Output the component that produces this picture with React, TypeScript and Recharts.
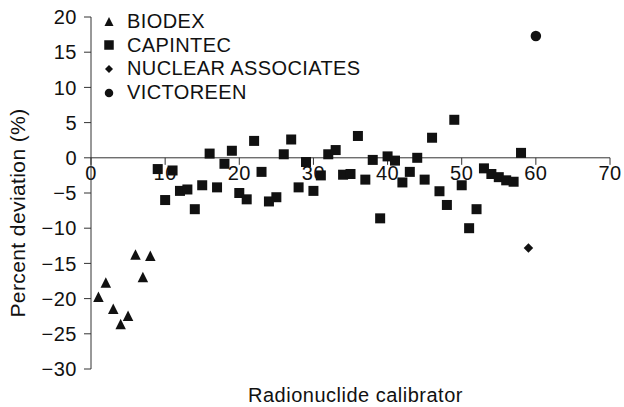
import { Legend, ReferenceLine, Scatter, ScatterChart, XAxis, YAxis } from "recharts";

document.body.style.margin = "0";

const FONT = '"Liberation Sans", Arial, Helvetica, sans-serif';
const INK = "#111";
const AXIS = "#333";

const X_TICKS = [0, 10, 20, 30, 40, 50, 60, 70];
const Y_TICKS = [-30, -25, -20, -15, -10, -5, 0, 5, 10, 15, 20];

// calibrators are numbered along x; each series starts at its first number
const BIODEX_FIRST = 1;
const BIODEX = [-19.8, -17.8, -21.5, -23.7, -22.5, -13.8, -17.0, -14.0];

const CAPINTEC_FIRST = 9;
const CAPINTEC = [
  -1.6, -6.0, -1.8, -4.7, -4.5, -7.3, -3.9, 0.6, -4.2, -0.85,
  1.0, -5.0, -5.9, 2.4, -2.0, -6.2, -5.6, 0.5, 2.6, -4.2,
  -0.6, -4.7, -2.5, 0.5, 1.1, -2.4, -2.3, 3.1, -3.1, -0.3,
  -8.6, 0.2, -0.4, -3.5, -2.0, 0.0, -3.1, 2.85, -4.75, -6.7,
  5.4, -3.9, -10.0, -7.3, -1.5, -2.3, -2.75, -3.2, -3.4, 0.7,
];

const NUCLEAR_FIRST = 59;
const NUCLEAR = [-12.8];

const VICTOREEN_FIRST = 60;
const VICTOREEN = [17.3];

const toPoints = (first: number, values: number[]) => values.map((y, i) => ({ x: first + i, y }));

const triangle = (s: number) => (p: any) => (
  <path d={`M${p.cx},${p.cy - s * 0.55}L${p.cx + s / 2},${p.cy + s * 0.45}L${p.cx - s / 2},${p.cy + s * 0.45}Z`} fill={INK} />
);
const square = (s: number) => (p: any) => <rect x={p.cx - s / 2} y={p.cy - s / 2} width={s} height={s} fill={INK} />;
const diamond = (s: number) => (p: any) => (
  <path d={`M${p.cx},${p.cy - s / 2}L${p.cx + s / 2},${p.cy}L${p.cx},${p.cy + s / 2}L${p.cx - s / 2},${p.cy}Z`} fill={INK} />
);
const circle = (s: number) => (p: any) => <circle cx={p.cx} cy={p.cy} r={s / 2} fill={INK} />;

const SERIES = [
  { name: "BIODEX", data: toPoints(BIODEX_FIRST, BIODEX), mark: triangle(10.5), icon: triangle(9) },
  { name: "CAPINTEC", data: toPoints(CAPINTEC_FIRST, CAPINTEC), mark: square(10), icon: square(9.5) },
  { name: "NUCLEAR ASSOCIATES", data: toPoints(NUCLEAR_FIRST, NUCLEAR), mark: diamond(9.5), icon: diamond(8) },
  { name: "VICTOREEN", data: toPoints(VICTOREEN_FIRST, VICTOREEN), mark: circle(10.5), icon: circle(8.5) },
];

const textStyle = { fontFamily: FONT, fontSize: 20, letterSpacing: 0.5, fill: INK };

function LegendBox({ payload }: any) {
  return (
    <div style={{ fontFamily: FONT, fontSize: 20, letterSpacing: 0.4, color: INK }}>
      {(payload ?? []).map((entry: any) => {
        const s = SERIES.find((d) => d.name === entry.value);
        return (
          <div key={entry.value} style={{ display: "flex", alignItems: "center", height: 23.6, lineHeight: "23.6px", whiteSpace: "nowrap" }}>
            <svg width={14} height={14} style={{ marginRight: 11 }}>
              {s?.icon({ cx: 7, cy: 7 })}
            </svg>
            <span>{entry.value}</span>
          </div>
        );
      })}
    </div>
  );
}

export default function App() {
  return (
    <ScatterChart width={624} height={407} margin={{ top: 17, right: 14, bottom: 0, left: 0 }}>
      <XAxis
        type="number"
        dataKey="x"
        domain={[0, 70]}
        ticks={X_TICKS}
        axisLine={false}
        tickLine={false}
        tick={false}
        height={38}
        label={(props: any) => {
          const vb = props.viewBox;
          return (
            <text x={vb.x + vb.width / 2 + 5} y={vb.y + 33} textAnchor="middle" style={textStyle}>
              Radionuclide calibrator
            </text>
          );
        }}
      />
      <YAxis
        type="number"
        dataKey="y"
        domain={[-30, 20]}
        ticks={Y_TICKS}
        interval={0}
        width={91}
        tickSize={7}
        tickMargin={7}
        axisLine={{ stroke: AXIS }}
        tickLine={{ stroke: AXIS }}
        tick={{ ...textStyle }}
        tickFormatter={(v: number) => String(v).replace("-", "\u2212")}
        label={(props: any) => {
          const vb = props.viewBox;
          const cx = 25;
          const cy = vb.y + vb.height / 2 + 20;
          return (
            <text
              x={cx}
              y={cy}
              textAnchor="middle"
              transform={`rotate(-90, ${cx}, ${cy})`}
              style={{ fontFamily: FONT, fontSize: 21, letterSpacing: 0.4, fill: INK }}
            >
              Percent deviation (%)
            </text>
          );
        }}
      />
      <ReferenceLine y={0} stroke={AXIS} />
      {X_TICKS.map((t) => (
        <ReferenceLine
          key={t}
          segment={[
            { x: t, y: 0 },
            { x: t, y: -1 },
          ]}
          stroke={AXIS}
          label={(props: any) => {
            const vb = props.viewBox;
            return (
              <text x={vb.x} y={vb.y + vb.height + 15} textAnchor="middle" style={textStyle}>
                {t}
              </text>
            );
          }}
        />
      ))}
      <Legend
        layout="vertical"
        align="center"
        verticalAlign="middle"
        content={<LegendBox />}
        wrapperStyle={{ top: 10, left: 102, width: "auto" }}
      />
      {SERIES.map((s) => (
        <Scatter key={s.name} name={s.name} data={s.data} fill={INK} shape={s.mark} isAnimationActive={false} />
      ))}
    </ScatterChart>
  );
}
